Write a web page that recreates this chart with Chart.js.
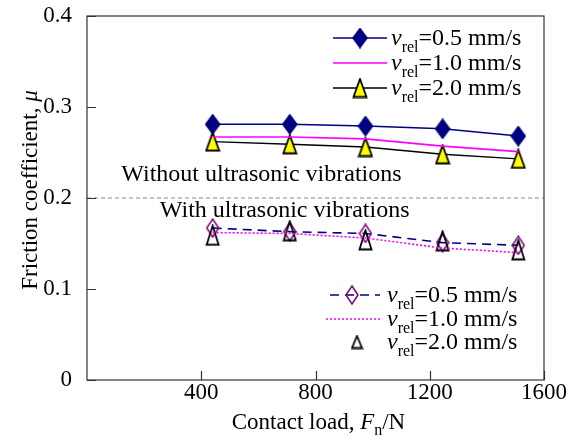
<!DOCTYPE html>
<html>
<head>
<meta charset="utf-8">
<script src="https://cdn.jsdelivr.net/npm/chart.js@4.4.1/dist/chart.umd.min.js"></script>
<style>
  html, body { margin: 0; padding: 0; background: #fff; }
  #chart { display: block; }
</style>
</head>
<body>
<canvas id="chart" width="574" height="437"></canvas>
<script>
// contact load, N
const loads = [440, 710, 975, 1245, 1510];

// friction coefficient without ultrasonic vibrations
const muNoUS05 = [0.281, 0.281, 0.279, 0.276, 0.268];
const muNoUS10 = [0.267, 0.267, 0.265, 0.257, 0.251];
const muNoUS20 = [0.262, 0.259, 0.256, 0.248, 0.243];

// friction coefficient with ultrasonic vibrations
const muUS05 = [0.167, 0.163, 0.161, 0.151, 0.148];
const muUS10 = [0.162, 0.161, 0.156, 0.145, 0.140];
const muUS20 = [0.159, 0.164, 0.154, 0.153, 0.143];

const speeds = ['0.5', '1.0', '2.0'];
const boundaryMu = 0.2;
const xTicks = [400, 800, 1200, 1600];
const yTicks = [0, 0.1, 0.2, 0.3, 0.4];

const FONT = '"Liberation Serif", "Times New Roman", serif';
const NAVY = '#000080';
const MAGENTA = '#ff00ff';
const PURPLE = '#800080';

function pts(ys) {
    return loads.map((x, i) => ({ x: x, y: ys[i] }));
}

// tall marker images
function diamondImg(w, h, fill, stroke) {
    const c = document.createElement('canvas');
    c.width = w + 2; c.height = h + 2;
    const g = c.getContext('2d');
    g.beginPath();
    g.moveTo(c.width / 2, 1);
    g.lineTo(c.width - 1, c.height / 2);
    g.lineTo(c.width / 2, c.height - 1);
    g.lineTo(1, c.height / 2);
    g.closePath();
    if (fill) { g.fillStyle = fill; g.fill(); }
    g.lineWidth = 1.5;
    g.strokeStyle = stroke;
    g.stroke();
    return c;
}

function triangleImg(w, h, fill, stroke) {
    const c = document.createElement('canvas');
    c.width = w + 3; c.height = h + 3;
    const g = c.getContext('2d');
    g.beginPath();
    g.moveTo(c.width / 2, 1.5);
    g.lineTo(c.width - 1.5, c.height - 1.5);
    g.lineTo(1.5, c.height - 1.5);
    g.closePath();
    if (fill) { g.fillStyle = fill; g.fill(); }
    g.lineWidth = 1.8;
    g.strokeStyle = stroke;
    g.stroke();
    return c;
}

const navyDiamond = diamondImg(14, 19, NAVY, NAVY);
const yellowTri = triangleImg(13, 18, '#ffff00', '#000');
const openDiamond = diamondImg(12, 18, null, PURPLE);
const openTri = triangleImg(12, 19, null, '#000');
const smallTri = triangleImg(10, 12, null, '#000');

// text with italic / subscript parts
function richText(ctx, parts, x, y, size) {
    let cx = x;
    for (const p of parts) {
        const fs = p.sub ? Math.round(size * 0.68) : size;
        ctx.font = (p.italic ? 'italic ' : '') + fs + 'px ' + FONT;
        ctx.fillText(p.t, cx, y + (p.sub ? size * 0.28 : 0));
        cx += ctx.measureText(p.t).width;
    }
    return cx - x;
}

function richWidth(ctx, parts, size) {
    let w = 0;
    for (const p of parts) {
        const fs = p.sub ? Math.round(size * 0.68) : size;
        ctx.font = (p.italic ? 'italic ' : '') + fs + 'px ' + FONT;
        w += ctx.measureText(p.t).width;
    }
    return w;
}

function vrel(s) {
    return [{ t: 'v', italic: true }, { t: 'rel', sub: true }, { t: '=' + s + ' mm/s' }];
}

const decorPlugin = {
    id: 'decor',
    afterDatasetsDraw(chart) {
        const ctx = chart.ctx;
        const a = chart.chartArea;
        const xs = chart.scales.x;
        const ys = chart.scales.y;
        ctx.save();

        // frame
        ctx.strokeStyle = '#333';
        ctx.lineWidth = 1.2;
        ctx.strokeRect(a.left, a.top, a.right - a.left, a.bottom - a.top);

        // inward ticks
        ctx.beginPath();
        for (const v of yTicks) {
            const py = Math.round(ys.getPixelForValue(v)) + 0.5;
            ctx.moveTo(a.left, py); ctx.lineTo(a.left + 9, py);
        }
        for (const v of xTicks) {
            const px = Math.round(xs.getPixelForValue(v)) + 0.5;
            ctx.moveTo(px, a.bottom); ctx.lineTo(px, a.bottom - 9);
        }
        ctx.stroke();

        ctx.fillStyle = '#000';
        ctx.textBaseline = 'alphabetic';
        ctx.textAlign = 'left';

        // region labels
        ctx.font = '24px ' + FONT;
        ctx.fillText('Without ultrasonic vibrations', xs.getPixelForValue(120), ys.getPixelForValue(0.219));
        ctx.fillText('With ultrasonic vibrations', xs.getPixelForValue(255), ys.getPixelForValue(0.179));

        // upper legend
        const upper = [
            { y: 38, color: NAVY, img: navyDiamond },
            { y: 63, color: MAGENTA, img: null },
            { y: 88, color: '#000', img: yellowTri }
        ];
        upper.forEach((r, i) => {
            ctx.strokeStyle = r.color;
            ctx.lineWidth = 1.5;
            ctx.setLineDash([]);
            ctx.beginPath();
            ctx.moveTo(333, r.y); ctx.lineTo(387, r.y);
            ctx.stroke();
            if (r.img) ctx.drawImage(r.img, 360 - r.img.width / 2, r.y - r.img.height / 2);
            ctx.fillStyle = '#000';
            richText(ctx, vrel(speeds[i]), 391, r.y + 7, 24);
        });

        // lower legend
        ctx.strokeStyle = NAVY;
        ctx.lineWidth = 1.5;
        ctx.setLineDash([9, 6]);
        ctx.beginPath();
        ctx.moveTo(330, 295); ctx.lineTo(380, 295);
        ctx.stroke();
        ctx.drawImage(openDiamond, 352 - openDiamond.width / 2, 295 - openDiamond.height / 2);
        ctx.strokeStyle = MAGENTA;
        ctx.setLineDash([2, 2]);
        ctx.beginPath();
        ctx.moveTo(326, 319); ctx.lineTo(380, 319);
        ctx.stroke();
        ctx.setLineDash([]);
        ctx.drawImage(smallTri, 357 - smallTri.width / 2, 342 - smallTri.height / 2);
        ctx.fillStyle = '#000';
        [295, 319, 342].forEach((y, i) => richText(ctx, vrel(speeds[i]), 387, y + 7, 24));

        // axis titles
        const xt = [{ t: 'Contact load, ' }, { t: 'F', italic: true }, { t: 'n', sub: true }, { t: '/N' }];
        const xw = richWidth(ctx, xt, 23);
        richText(ctx, xt, (a.left + a.right) / 2 + 3 - xw / 2, 429, 23);

        const yt = [{ t: 'Friction coefficient, ' }, { t: 'μ', italic: true }];
        const yw = richWidth(ctx, yt, 23);
        ctx.translate(37, 190);
        ctx.rotate(-Math.PI / 2);
        richText(ctx, yt, -yw / 2, 0, 23);

        ctx.restore();
    }
};

new Chart(document.getElementById('chart'), {
    type: 'scatter',
    data: {
        datasets: [
            {
                data: [{ x: 0, y: boundaryMu }, { x: 1600, y: boundaryMu }],
                showLine: true, borderColor: '#888', borderWidth: 1, borderDash: [4, 3],
                pointRadius: 0
            },
            {
                data: pts(muNoUS10), showLine: true, borderColor: MAGENTA, borderWidth: 1.6,
                pointRadius: 0
            },
            {
                data: pts(muNoUS20), showLine: true, borderColor: '#000', borderWidth: 1.4,
                pointStyle: yellowTri
            },
            {
                data: pts(muNoUS05), showLine: true, borderColor: NAVY, borderWidth: 1.5,
                pointStyle: navyDiamond
            },
            {
                data: pts(muUS10), showLine: true, borderColor: MAGENTA, borderWidth: 1.6,
                borderDash: [2, 2], pointRadius: 0
            },
            {
                data: pts(muUS20), showLine: false, pointStyle: openTri
            },
            {
                data: pts(muUS05), showLine: true, borderColor: NAVY, borderWidth: 1.6,
                borderDash: [9, 6], pointStyle: openDiamond
            }
        ]
    },
    options: {
        responsive: false,
        animation: false,
        layout: { padding: { top: 16, right: 30, left: 0, bottom: 0 } },
        plugins: {
            legend: { display: false },
            tooltip: { enabled: false }
        },
        scales: {
            x: {
                type: 'linear', min: 0, max: 1600,
                afterBuildTicks: s => { s.ticks = [0].concat(xTicks).map(v => ({ value: v })); },
                afterFit: s => { s.height = 57; s.paddingLeft = 0; s.paddingRight = 0; },
                grid: { display: false, drawTicks: false },
                border: { display: false },
                ticks: {
                    color: '#000', padding: -1, maxRotation: 0,
                    font: { family: FONT, size: 23 },
                    callback: v => (v === 0 ? '' : v)
                }
            },
            y: {
                min: 0, max: 0.4,
                afterBuildTicks: s => { s.ticks = yTicks.map(v => ({ value: v })); },
                afterFit: s => { s.width = 87; s.paddingTop = 0; s.paddingBottom = 0; },
                grid: { display: false, drawTicks: false },
                border: { display: false },
                ticks: {
                    color: '#000', padding: 15,
                    font: { family: FONT, size: 23 },
                    callback: v => String(v)
                }
            }
        }
    },
    plugins: [decorPlugin]
});
</script>
</body>
</html>
